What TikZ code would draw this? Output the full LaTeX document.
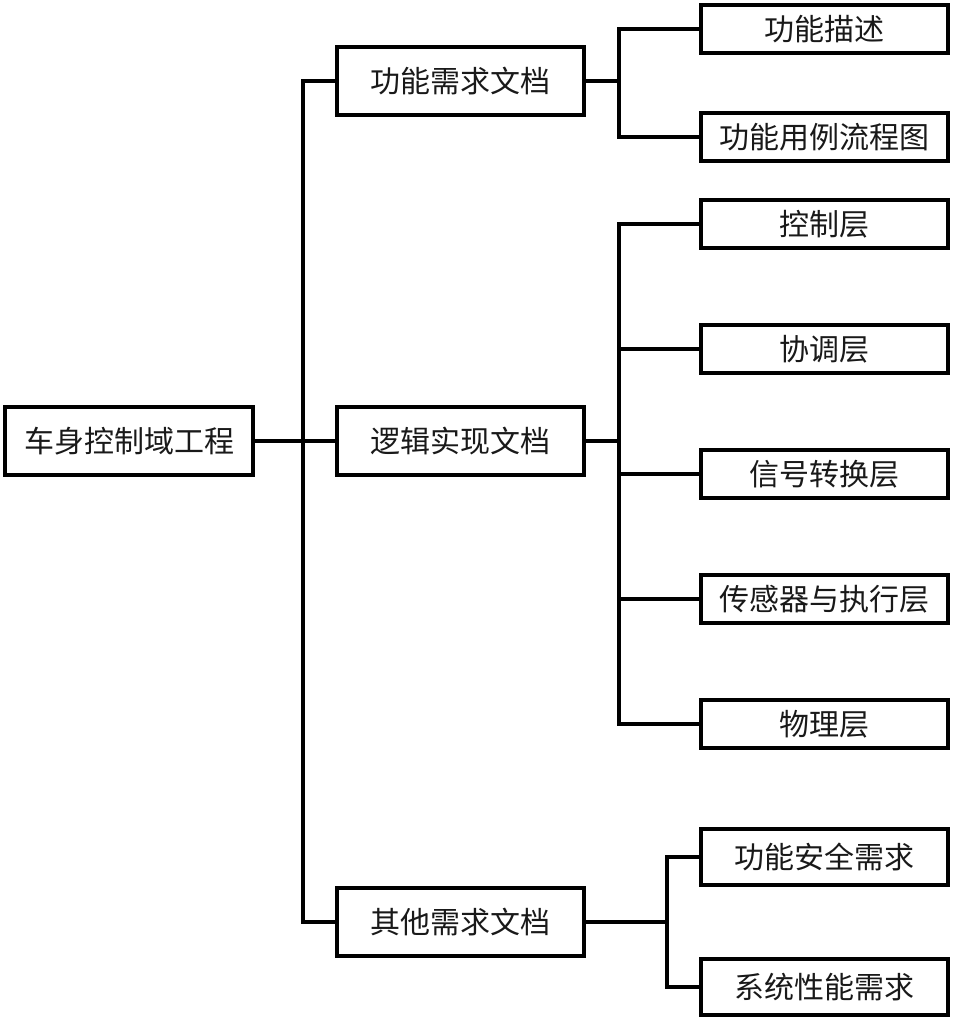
\documentclass[tikz,border=0pt]{standalone}
\usepackage{fontspec}
\newfontfamily\cjk{Noto Sans CJK SC}
\begin{document}
\begin{tikzpicture}[x=1pt,y=-1pt,
  box/.style={draw=black,line width=4pt,fill=white,rectangle,inner sep=0pt,
    font=\cjk\fontsize{30}{30}\selectfont,text=black!90},
  rootbox/.style={box,minimum width=248pt,minimum height=68pt},
  midbox/.style={box,minimum width=247pt,minimum height=68pt},
  leafbox/.style={box,minimum width=247pt,minimum height=48pt},
  tallleaf/.style={box,minimum width=247pt,minimum height=56pt},
  link/.style={draw=black,line width=4pt,line join=miter}]
\useasboundingbox (0,0) rectangle (953,1020);
\fill[white] (0,0) rectangle (953,1020);
% nodes
\node[rootbox] (root) at (129,441) {车身控制域工程};
\node[midbox] (m1) at (460.5,81) {功能需求文档};
\node[midbox] (m2) at (460.5,441) {逻辑实现文档};
\node[midbox] (m3) at (460.5,922) {其他需求文档};
\node[leafbox] (r1) at (824.5,29) {功能描述};
\node[leafbox] (r2) at (824.5,137) {功能用例流程图};
\node[leafbox] (r3) at (824.5,224) {控制层};
\node[leafbox] (r4) at (824.5,349) {协调层};
\node[leafbox] (r5) at (824.5,474) {信号转换层};
\node[leafbox] (r6) at (824.5,599) {传感器与执行层};
\node[leafbox] (r7) at (824.5,724) {物理层};
\node[tallleaf] (r8) at (824.5,857) {功能安全需求};
\node[tallleaf] (r9) at (824.5,987) {系统性能需求};
% junctions
\coordinate (t0) at (303,441);
\coordinate (j1) at (619,81);
\coordinate (j2) at (619,441);
\coordinate (j3) at (667,922);
% connectors
\begin{scope}[on background layer/.style={}]
\draw[link] (root.east) -- (t0);
\draw[link] (t0) |- (m1.west);
\draw[link] (t0) |- (m3.west);
\draw[link] (t0) -- (m2.west);
\draw[link] (m1.east) -- (j1);
\draw[link] (j1) |- (r1.west);
\draw[link] (j1) |- (r2.west);
\draw[link] (m2.east) -- (j2);
\draw[link] (j2) |- (r3.west);
\draw[link] (j2) |- (r4.west);
\draw[link] (j2) |- (r5.west);
\draw[link] (j2) |- (r6.west);
\draw[link] (j2) |- (r7.west);
\draw[link] (m3.east) -- (j3);
\draw[link] (j3) |- (r8.west);
\draw[link] (j3) |- (r9.west);
\end{scope}
\end{tikzpicture}
\end{document}
